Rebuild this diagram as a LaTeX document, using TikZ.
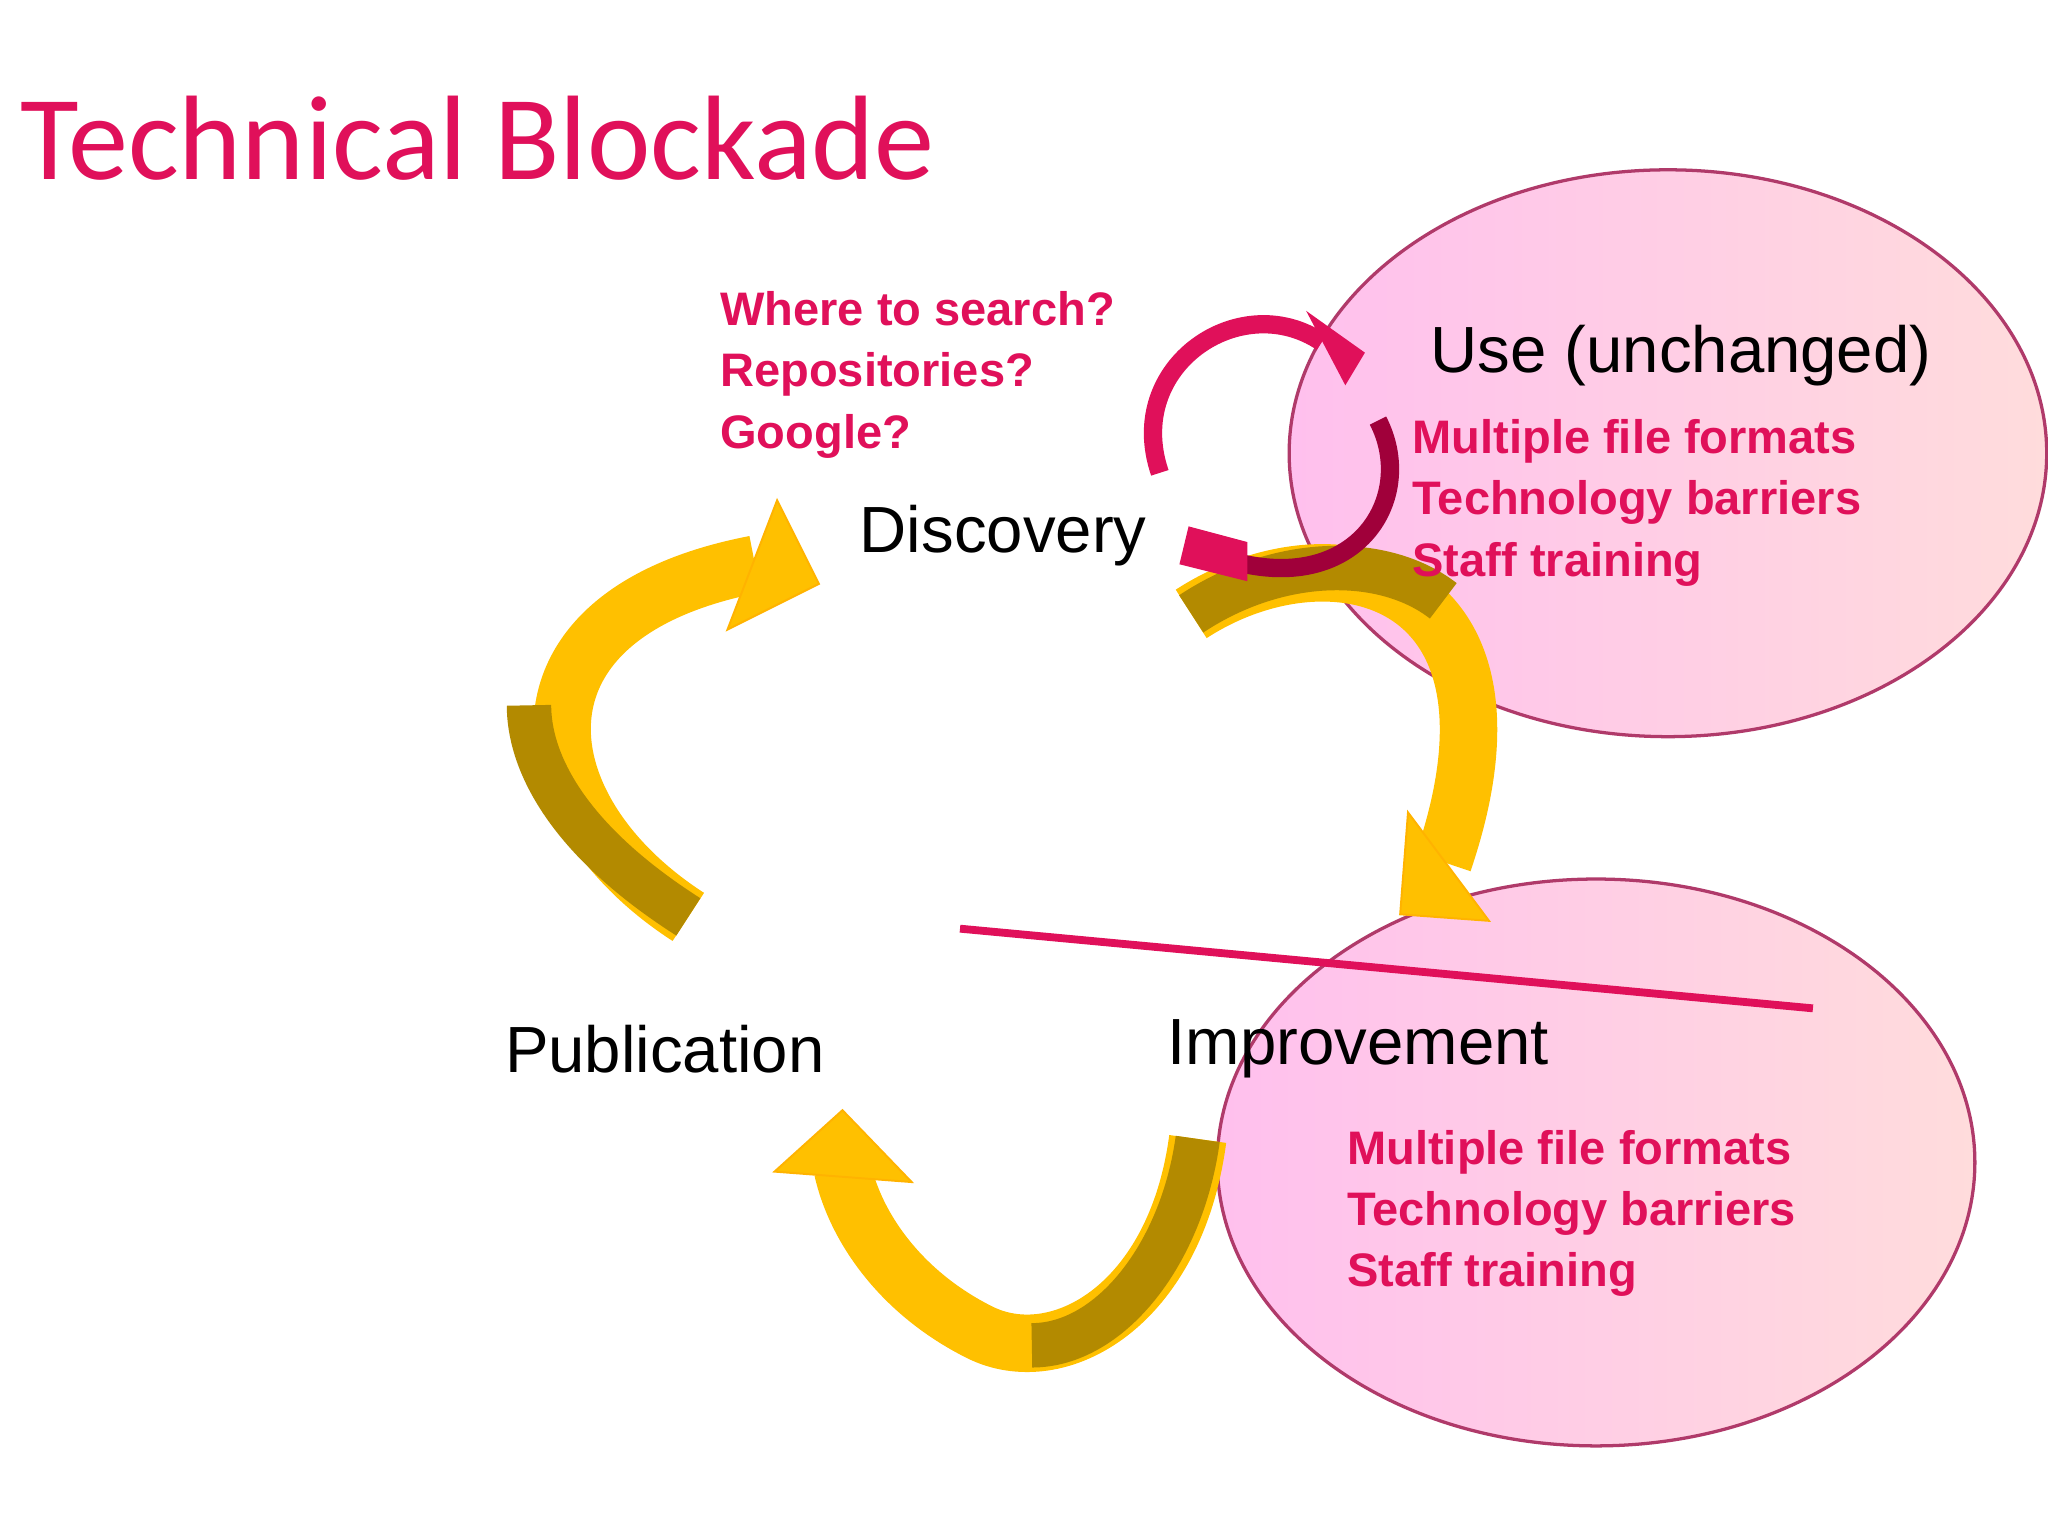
\documentclass[tikz,border=0pt]{standalone}
\usepackage{fontspec}
\setmainfont{Liberation Sans}
\newfontfamily\titlefont{Carlito}
\usetikzlibrary{shadings}
\definecolor{tpink}{HTML}{E0105A}
\definecolor{edge}{HTML}{B03A6A}
\definecolor{yel}{HTML}{FFC000}
\definecolor{dyel}{HTML}{B38A00}
\definecolor{dpink}{HTML}{A0003A}
\tikzset{
 bub/.style={draw=edge,line width=2.5pt,left color=pink!60!magenta!45,right color=pink!55!white},
 lab/.style={font=\fontsize{50}{60}\selectfont,text=black},
 ptxt/.style={font=\bfseries\fontsize{36}{47}\selectfont,text=tpink,align=left,anchor=west},
 yband/.style={line width=40pt,draw=yel},
 yhead/.style={fill=yel,draw=yel!80!orange,line width=1.5pt},
 pband/.style={line width=14pt,draw=tpink},
}
\begin{document}
\begin{tikzpicture}[x=1pt,y=-1pt]
\useasboundingbox[fill=white] (0,0) rectangle (1568,1176);
\node[anchor=west,text=tpink,font=\titlefont\fontsize{92}{100}\selectfont] (title) at (12,106) {Technical Blockade};
% bubbles
\path[bub] (1277,347) ellipse [x radius=290,y radius=217];
\path[bub] (1222,890) ellipse [x radius=290,y radius=217];
% yellow arrows
\draw[line width=44pt,draw=yel] (527,702) .. controls (400,620) and (380,470) .. (578,432);
\draw[line width=34pt,draw=dyel] (527,702) .. controls (430,640) and (405,580) .. (405,540);
\path[yhead] (557,482) -- (627,447) -- (595,383) -- cycle;
\draw[line width=44pt,draw=yel] (912,470) .. controls (1020,400) and (1180,440) .. (1105,660);
\draw[line width=34pt,draw=dyel] (912,470) .. controls (980,425) and (1060,425) .. (1105,460);
\path[yhead] (1078,622) -- (1072,700) -- (1140,705) -- cycle;
\draw[line width=44pt,draw=yel] (917,872) .. controls (900,1000) and (810,1050) .. (750,1020) .. controls (690,990) and (655,940) .. (645,895);
\draw[line width=34pt,draw=dyel] (917,872) .. controls (905,960) and (850,1030) .. (790,1030);
\path[yhead] (593,897) -- (645,850) -- (698,905) -- cycle;
% pink circular arrows
\coordinate (p1s) at (888,362);
\coordinate (p1e) at (1012,262);
\draw[pband] (p1s) .. controls (860,280) and (950,220) .. (p1e);
\path[fill=tpink] (1000,238) -- (1045,270) -- (1030,295) -- cycle;
\coordinate (p2s) at (1055,322);
\coordinate (p2e) at (945,430);
\draw[pband,draw=dpink] (p2s) .. controls (1085,380) and (1040,455) .. (p2e);
\path[fill=tpink] (910,403) -- (903,432) -- (955,445) -- (955,415) -- cycle;
% line
\coordinate (la) at (735,711);
\coordinate (lb) at (1388,772);
\draw[tpink,line width=6pt] (la) -- (lb);
% labels
\node[lab] (disc) at (768,410) {Discovery};
\node[lab] (use) at (1287,272) {Use (unchanged)};
\node[lab] (pub) at (509,803) {Publication};
\node[lab] (imp) at (1040,803) {Improvement};
\node[ptxt] (q) at (548,287) {Where to search?\\Repositories?\\Google?};
\node[ptxt] (t1) at (1078,385) {Multiple file formats\\Technology barriers\\Staff training};
\node[ptxt] (t2) at (1028,929) {Multiple file formats\\Technology barriers\\Staff training};
\end{tikzpicture}
\end{document}
